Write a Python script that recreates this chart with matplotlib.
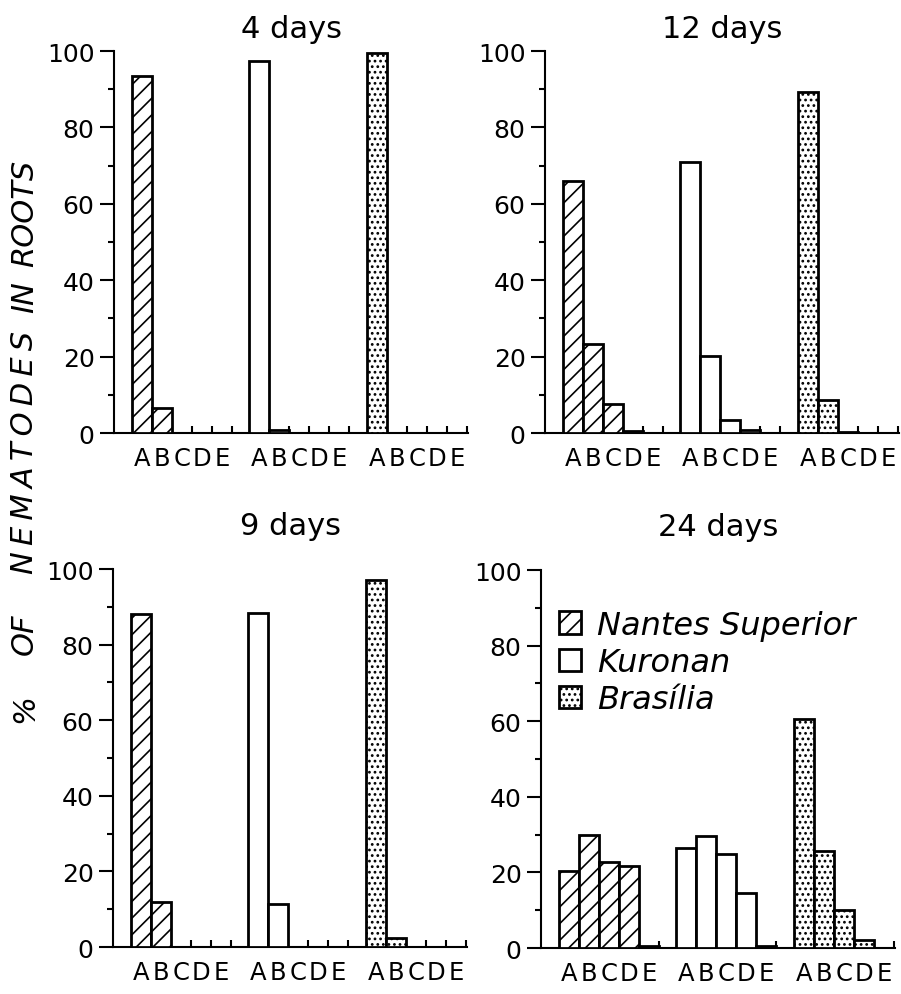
import numpy as np
import matplotlib.pyplot as plt

plt.rcParams['hatch.linewidth'] = 1.2

stages = ['A', 'B', 'C', 'D', 'E']
cultivars = ['Nantes Superior', 'Kuronan', 'Brasília']
titles = ['4 days', '12 days', '9 days', '24 days']

# % of nematodes in roots at stages A-E
nantes_4 = [93.5, 6.5, 0, 0, 0]
kuronan_4 = [97.5, 0.8, 0, 0, 0]
brasilia_4 = [99.5, 0, 0, 0, 0]

nantes_12 = [66, 23.3, 7.5, 0.6, 0]
kuronan_12 = [71, 20.2, 3.3, 0.7, 0]
brasilia_12 = [89.3, 8.6, 0.3, 0, 0]

nantes_9 = [88, 11.8, 0, 0, 0]
kuronan_9 = [88.5, 11.5, 0, 0, 0]
brasilia_9 = [97, 2.4, 0, 0, 0]

nantes_24 = [20.4, 30, 22.7, 21.6, 0.5]
kuronan_24 = [26.5, 29.7, 24.9, 14.6, 0.5]
brasilia_24 = [60.5, 25.6, 10, 2.1, 0]

panels = [
    [nantes_4, kuronan_4, brasilia_4],
    [nantes_12, kuronan_12, brasilia_12],
    [nantes_9, kuronan_9, brasilia_9],
    [nantes_24, kuronan_24, brasilia_24],
]

hatches = ['//', '', '...']
offsets = [0, 5.85, 11.75]

# axes boxes in figure fractions
boxes = [
    [0.1265, 0.5638, 0.393, 0.3839],
    [0.6049, 0.5638, 0.393, 0.3839],
    [0.1254, 0.0472, 0.393, 0.3799],
    [0.6004, 0.0462, 0.393, 0.3799],
]
title_pads = [10, 10, 25, 25]

fig = plt.figure(figsize=(9.01, 9.95), dpi=100)

for k in range(4):
    ax = fig.add_axes(boxes[k])
    handles = []
    for j in range(3):
        vals = np.array(panels[k][j], dtype=float)
        idx = np.nonzero(vals)[0]
        b = ax.bar(offsets[j] + idx, vals[idx], width=1, align='edge',
                   color='white', edgecolor='black', linewidth=2,
                   hatch=hatches[j], zorder=3, label=cultivars[j])
        handles.append(b)

    ax.set_xlim(-0.9, 16.8)
    ax.set_ylim(0, 100)

    centers = [o + i + 0.5 for o in offsets for i in range(5)]
    ax.set_xticks(centers)
    ax.set_xticklabels(stages * 3, fontsize=17.5)
    ax.set_xticks([o + i for o in offsets for i in range(1, 6)], minor=True)
    ax.tick_params(axis='x', which='major', length=0, pad=9)
    ax.tick_params(axis='x', which='minor', direction='in', length=5, width=1.5)

    ax.set_yticks(range(0, 101, 20))
    ax.set_yticks(range(10, 100, 20), minor=True)
    ax.tick_params(axis='y', which='major', direction='out', length=10, width=1.5,
                   labelsize=18, pad=4)
    ax.tick_params(axis='y', which='minor', direction='out', length=4.5, width=1.5)

    for s in ['top', 'right']:
        ax.spines[s].set_visible(False)
    for s in ['left', 'bottom']:
        ax.spines[s].set_linewidth(1.5)

    ax.set_title(titles[k], fontsize=22, pad=title_pads[k])

    if k == 3:
        ax.legend(handles=handles, loc='upper left', bbox_to_anchor=(0.05, 0.895),
                  frameon=False, prop={'size': 23, 'style': 'italic'},
                  handlelength=0.7, handleheight=0.7, handletextpad=0.5,
                  labelspacing=0.2, borderpad=0, borderaxespad=0)

# rotated y label, written word by word (the long word letter-spaced)
ylabel_words = ['ROOTS', 'IN', 'N\u2009E\u2009M\u2009A\u2009T\u2009O\u2009D\u2009E\u2009S', 'OF', '%']
ylabel_y = [0.786, 0.7015, 0.5457, 0.3628, 0.2884]
for w, yy in zip(ylabel_words, ylabel_y):
    fig.text(0.027, yy, w, rotation=90, fontsize=22, style='italic',
             ha='center', va='center')

fig.savefig('out.png', dpi=100)
